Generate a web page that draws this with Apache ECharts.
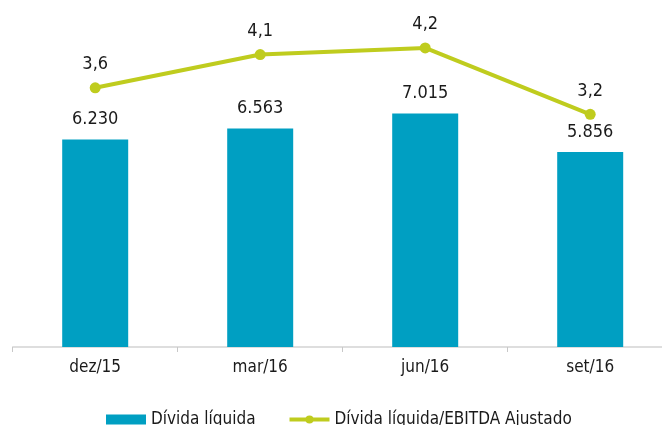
<!DOCTYPE html>
<html>
<head>
<meta charset="utf-8">
<script src="https://cdn.jsdelivr.net/npm/echarts@6/dist/echarts.min.js"></script>
<style>
  html, body { margin: 0; padding: 0; background: #fff; }
  #chart { width: 662px; height: 425px; }
</style>
</head>
<body>
<div id="chart"></div>
<script>
const categories = ['dez/15', 'mar/16', 'jun/16', 'set/16']
const dividaLiquida = [6230, 6563, 7015, 5856]
const dividaEbitda = [3.6, 4.1, 4.2, 3.2]

const font = '"DejaVu Sans Condensed", "DejaVu Sans", sans-serif'
const barColor = '#009fc2'
const lineColor = '#bfcc1e'

const chart = echarts.init(document.getElementById('chart'))

const fmtThousands = v => {
  const s = String(v)
  return s.length > 3 ? s.slice(0, s.length - 3) + '.' + s.slice(-3) : s
}

chart.setOption({
  animation: false,
  textStyle: { fontFamily: font },
  grid: {
    left: 12.7,
    right: -10.7,
    top: 14,
    bottom: 78,
    containLabel: false,
    outerBoundsMode: 'none'
  },
  legend: {
    top: 406,
    left: 101,
    itemWidth: 40,
    itemHeight: 10,
    itemGap: 32,
    textStyle: { fontFamily: font, fontSize: 17, color: '#1a1a1a' },
    data: [
      { name: 'Dívida líquida', icon: 'rect' },
      { name: 'Dívida líquida/EBITDA Ajustado', lineStyle: { width: 4 } }
    ]
  },
  xAxis: {
    type: 'category',
    data: categories,
    axisLine: { lineStyle: { color: '#d4d4d4', width: 1.5 } },
    axisTick: { show: true, length: 5, lineStyle: { color: '#c8c8c8', width: 1 } },
    axisLabel: { fontFamily: font, fontSize: 17, color: '#1a1a1a', margin: 12 }
  },
  yAxis: [
    { type: 'value', min: 0, max: 10000, show: false },
    { type: 'value', min: -0.3, max: 4.71, show: false }
  ],
  series: [
    {
      name: 'Dívida líquida',
      type: 'bar',
      data: dividaLiquida,
      barWidth: 66,
      itemStyle: { color: barColor },
      label: {
        show: true,
        position: 'top',
        distance: 11,
        fontFamily: font,
        fontSize: 18,
        color: '#1a1a1a',
        formatter: p => fmtThousands(p.value)
      }
    },
    {
      name: 'Dívida líquida/EBITDA Ajustado',
      type: 'line',
      yAxisIndex: 1,
      data: dividaEbitda,
      symbol: 'circle',
      symbolSize: 11,
      lineStyle: { color: lineColor, width: 4 },
      itemStyle: { color: lineColor },
      label: {
        show: true,
        position: 'top',
        distance: 9,
        fontFamily: font,
        fontSize: 18,
        color: '#1a1a1a',
        formatter: p => p.value.toFixed(1).replace('.', ',')
      }
    }
  ]
})
</script>
</body>
</html>
